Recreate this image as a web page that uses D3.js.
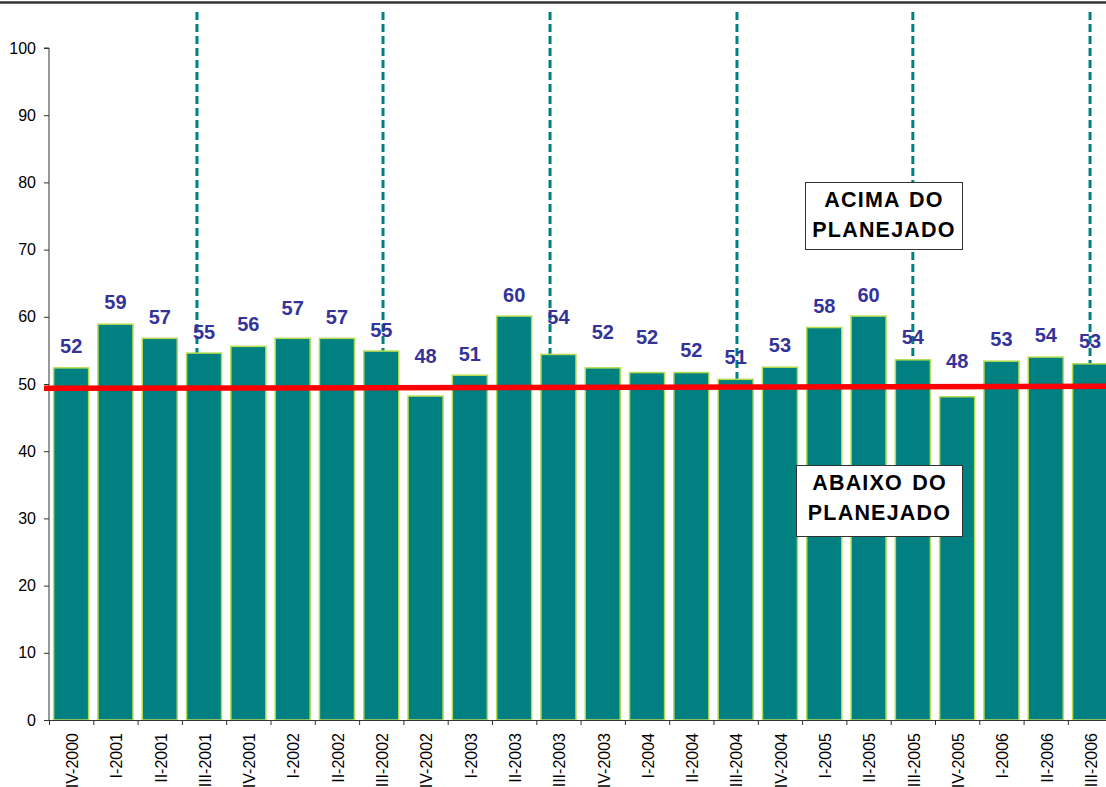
<!DOCTYPE html>
<html lang="pt">
<head>
    <meta charset="UTF-8">
    <script src="https://d3js.org/d3.v7.min.js"></script>
    <style>
        body {margin: 0; background: #ffffff; overflow: hidden}
        svg {display: block; font-family: "Liberation Sans", Arial, sans-serif}
    </style>
</head>
<body>
<svg class="chart"></svg>
<script type="text/javascript">
    // quarters shown on the x axis
    const categories = ["IV-2000", "I-2001", "II-2001", "III-2001", "IV-2001", "I-2002", "II-2002", "III-2002",
        "IV-2002", "I-2003", "II-2003", "III-2003", "IV-2003", "I-2004", "II-2004", "III-2004",
        "IV-2004", "I-2005", "II-2005", "III-2005", "IV-2005", "I-2006", "II-2006", "III-2006"];

    // bar heights
    const values = [52.4, 58.9, 56.8, 54.6, 55.6, 56.8, 56.8, 54.9, 48.2, 51.3, 60.1, 54.4,
        52.4, 51.7, 51.7, 50.7, 52.5, 58.4, 60.1, 53.6, 48.1, 53.4, 54.0, 53.0];

    // level (in chart units) where each data label sits
    const labelLevel = [54.6, 61.2, 58.9, 56.7, 57.9, 60.3, 58.9, 57.0, 53.1, 53.4, 62.2, 58.9,
        56.7, 56.0, 54.0, 53.0, 54.8, 60.6, 62.2, 56.0, 52.4, 55.7, 56.3, 55.4];

    // planned level, start and end of the red line
    const planned = [49.35, 49.65];

    // dashed markers, as position along the category index
    const markers = [3.34, 7.54, 11.31, 15.53, 19.5, 23.5];

    const yTicks = [0, 10, 20, 30, 40, 50, 60, 70, 80, 90, 100];

    const chartW = 1106, chartH = 787;
    const plotLeft = 49, step = 44.3, plotTop = 48, plotBottom = 720;
    const font = "'Liberation Sans', Arial, sans-serif";

    const svg = d3.select(".chart").attr("width", chartW).attr("height", chartH);

    const x = d3.scaleBand()
        .domain(categories)
        .range([plotLeft, plotLeft + step * categories.length])
        .paddingInner(0.21)
        .paddingOuter(0.105);

    const idx = d3.scaleLinear()
        .domain([0, categories.length])
        .range([plotLeft, plotLeft + step * categories.length]);

    const y = d3.scaleLinear().domain([0, 100]).range([plotBottom, plotTop]);

    // frame line at the very top
    svg.append("line")
        .attr("x1", 0).attr("x2", chartW)
        .attr("y1", 2.5).attr("y2", 2.5)
        .attr("stroke", "#333").attr("stroke-width", 2.5);

    // dashed quarter markers (behind the bars)
    svg.append("g").selectAll("line")
        .data(markers)
        .join("line")
        .attr("x1", d => idx(d)).attr("x2", d => idx(d))
        .attr("y1", 12).attr("y2", plotBottom)
        .attr("stroke", "#008080")
        .attr("stroke-width", 3)
        .attr("stroke-dasharray", "8,4");

    // bars
    svg.append("g").selectAll("rect")
        .data(values)
        .join("rect")
        .attr("x", (d, i) => x(categories[i]))
        .attr("width", x.bandwidth())
        .attr("y", d => y(d))
        .attr("height", d => y(0) - y(d))
        .attr("fill", "#008080")
        .attr("stroke", "#b4dc50")
        .attr("stroke-width", 1.5);

    // y axis
    const yAxis = svg.append("g")
        .attr("transform", `translate(${plotLeft},0)`)
        .call(d3.axisLeft(y).tickValues(yTicks).tickSize(5).tickPadding(8));
    yAxis.attr("font-family", font).attr("font-size", 16);
    yAxis.select(".domain").attr("stroke", "#333").attr("d", `M-5,${plotTop}H0V${plotBottom}`);
    yAxis.selectAll(".tick line").attr("stroke", "#333");
    yAxis.selectAll("text").attr("fill", "#000");

    // x axis: boundary ticks
    const xAxis = svg.append("g")
        .attr("transform", `translate(0,${plotBottom})`)
        .call(d3.axisBottom(idx).tickValues(d3.range(categories.length + 1)).tickFormat("").tickSize(5));
    xAxis.select(".domain").attr("stroke", "#333");
    xAxis.selectAll(".tick line").attr("stroke", "#333");

    // x labels, rotated
    svg.append("g").selectAll("text")
        .data(categories)
        .join("text")
        .attr("transform", d => `translate(${x(d) + x.bandwidth() / 2 + 1},733) rotate(-90)`)
        .attr("text-anchor", "end")
        .attr("dy", "0.36em")
        .attr("font-family", font)
        .attr("font-size", 16)
        .attr("fill", "#000")
        .text(d => d);

    // planned line
    svg.append("line")
        .attr("x1", 44).attr("x2", idx(categories.length))
        .attr("y1", y(planned[0])).attr("y2", y(planned[1]))
        .attr("stroke", "#ff0000")
        .attr("stroke-width", 5.5);

    // data labels
    svg.append("g").selectAll("text")
        .data(values)
        .join("text")
        .attr("x", (d, i) => x(categories[i]) + x.bandwidth() / 2)
        .attr("y", (d, i) => y(labelLevel[i]))
        .attr("text-anchor", "middle")
        .attr("font-family", font)
        .attr("font-size", 20)
        .attr("font-weight", "bold")
        .attr("fill", "#333399")
        .text(d => Math.round(d));

    // annotation boxes
    function note(x0, y0, w, h, lines) {
        const g = svg.append("g");
        g.append("rect")
            .attr("x", x0).attr("y", y0).attr("width", w).attr("height", h)
            .attr("fill", "#ffffff").attr("stroke", "#333").attr("stroke-width", 1);
        lines.forEach(function (t, i) {
            g.append("text")
                .attr("x", x0 + w / 2)
                .attr("y", y0 + 24 + i * 30)
                .attr("text-anchor", "middle")
                .attr("font-family", font)
                .attr("font-size", 21.5)
                .attr("font-weight", "bold")
                .attr("letter-spacing", 1.2)
                .attr("word-spacing", 2)
                .attr("fill", "#000")
                .text(t);
        });
    }
    note(805.5, 182.5, 157, 67, ["ACIMA DO", "PLANEJADO"]);
    note(796.5, 465.5, 166, 71, ["ABAIXO DO", "PLANEJADO"]);
</script>
</body>
</html>
